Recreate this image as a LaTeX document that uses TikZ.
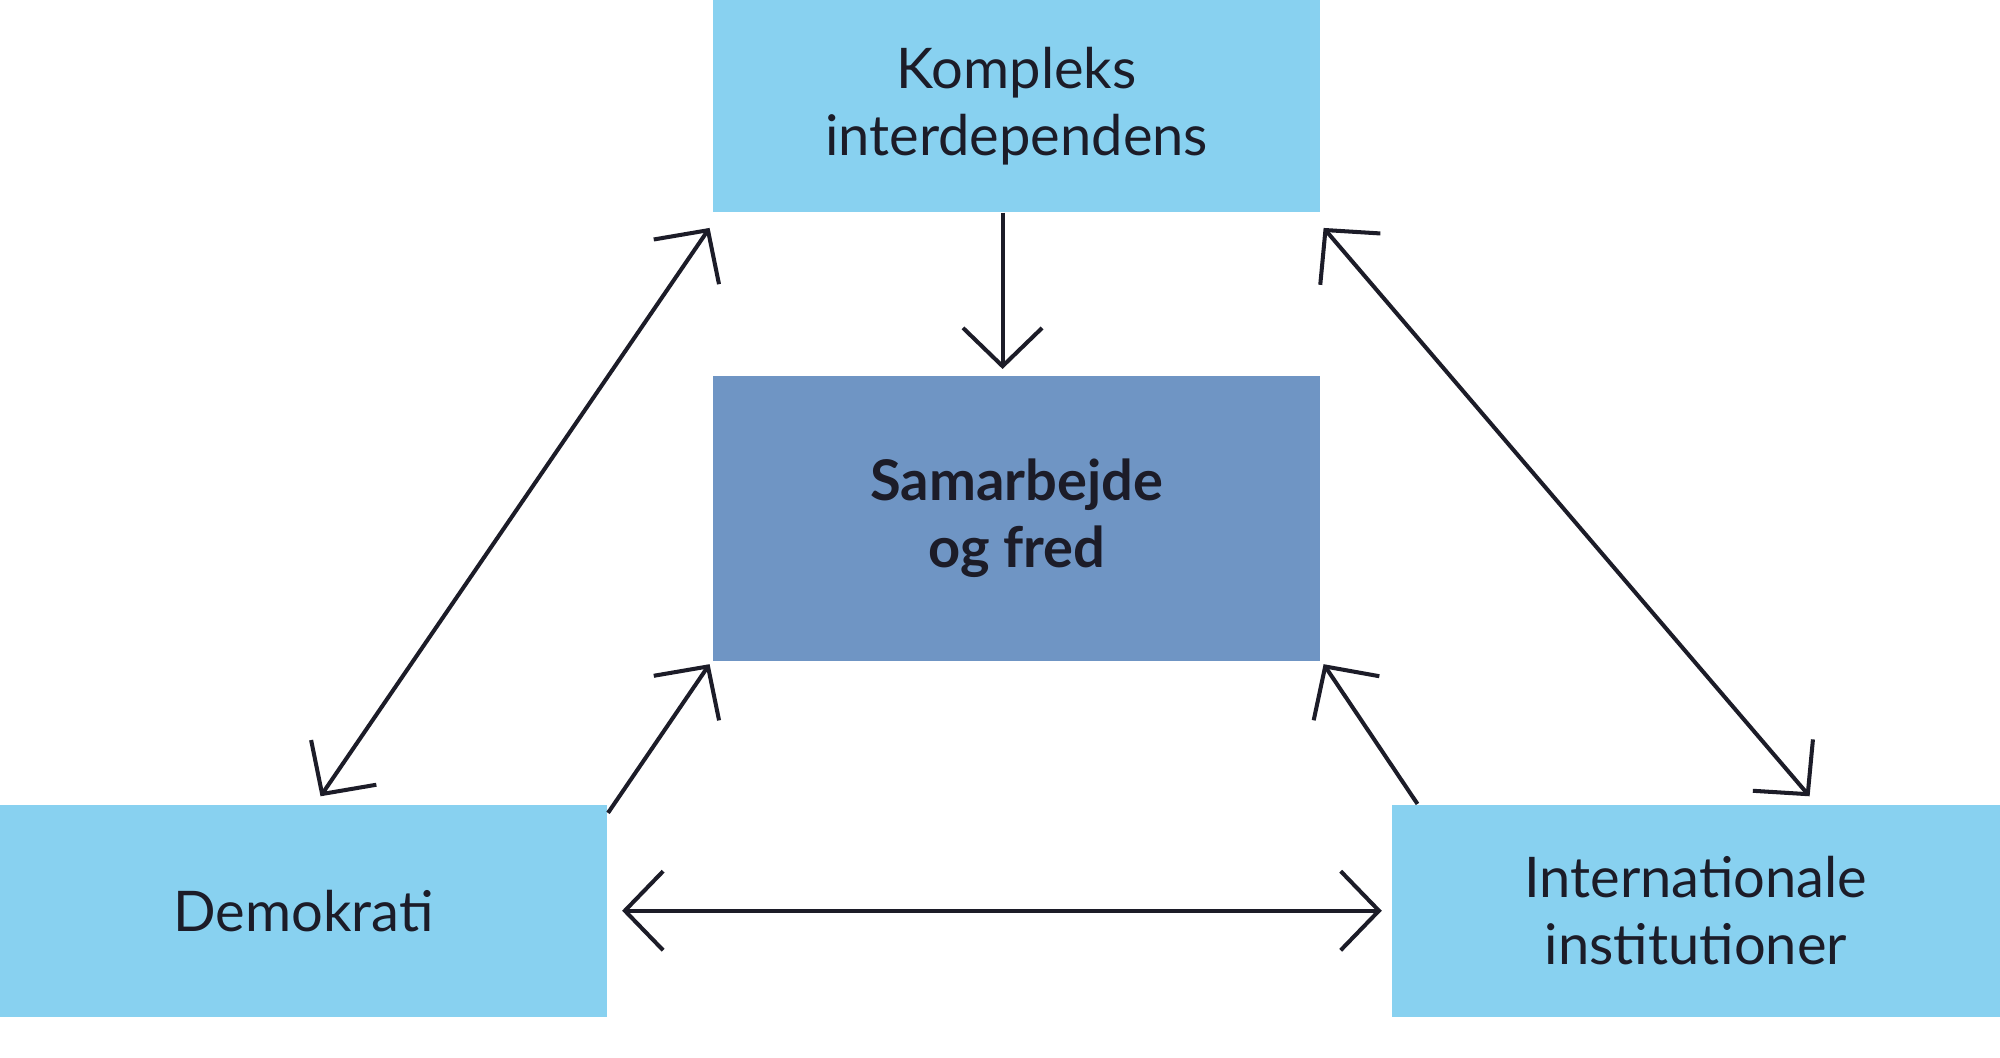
\documentclass[tikz,border=0pt]{standalone}
\usepackage{fontspec}
\setmainfont{Lato}
\usetikzlibrary{arrows.meta}
\definecolor{lb}{HTML}{88D1F0}
\definecolor{db}{HTML}{6F95C4}
\definecolor{tx}{HTML}{1C1C28}
\begin{document}
\begin{tikzpicture}[
 box/.style={draw=none,fill=lb,minimum width=4.76cm,minimum height=1.66cm,align=center,text=tx,font=\fontsize{12.5}{15}\selectfont\addfontfeatures{}},
 arr/.style={draw=tx,line width=0.9pt,-{Straight Barb[length=0.3cm,width=0.62cm,line width=0.9pt]}},
 darr/.style={arr,{Straight Barb[length=0.3cm,width=0.62cm,line width=0.9pt]}-{Straight Barb[length=0.3cm,width=0.62cm,line width=0.9pt]}}]
\useasboundingbox (0,0) rectangle (15.68,-8.29);
\node[box] (top) at (7.97,-0.83) {Kompleks\\interdependens};
\node[box,fill=db,minimum height=2.23cm,font=\fontsize{12.5}{15}\selectfont\bfseries] (mid) at (7.97,-4.065) {Samarbejde\\og fred};
\node[box] (demo) at (2.38,-7.14) {Demokrati};
\node[box,minimum width=4.77cm] (intl) at (13.295,-7.14) {Internationale\\institutioner};
\draw[arr] ([xshift=-0.11cm]top.south) -- ([xshift=-0.11cm,yshift=0.05cm]mid.north);
\draw[darr] ([shift={(-0.02,-0.12)}]top.south west) -- ([shift={(2.52,0.06)}]demo.north west);
\draw[darr] ([shift={(0.02,-0.12)}]top.south east) -- ([shift={(-1.5,0.06)}]intl.north east);
\draw[arr] ([yshift=-0.07cm]demo.north east) -- ([shift={(-0.02,-0.02)}]mid.south west);
\draw[arr] ([xshift=0.21cm]intl.north west) -- ([shift={(0.02,-0.02)}]mid.south east);
\draw[darr] ([xshift=0.11cm]demo.east) -- ([xshift=-0.07cm]intl.west);
\end{tikzpicture}
\end{document}
